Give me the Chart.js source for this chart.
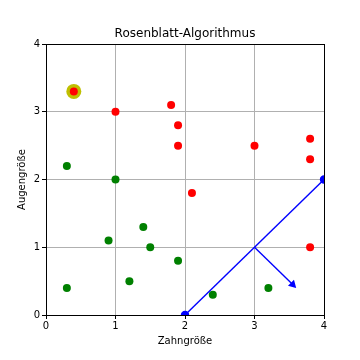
<!DOCTYPE html>
<html>
<head>
<meta charset="utf-8">
<script src="https://cdn.jsdelivr.net/npm/chart.js@4.4.0/dist/chart.umd.min.js"></script>
<style>
  html, body { margin: 0; padding: 0; background: #fff; }
  #wrap { width: 360px; height: 360px; }
</style>
</head>
<body>
<div id="wrap"><canvas id="chart" width="360" height="360"></canvas></div>
<script>
// Rosenblatt data: two classes plus separating line and normal vector
const redX = [0.4, 1.0, 1.8, 1.9, 1.9, 2.1, 3.0, 3.8, 3.8, 3.8];
const redY = [3.3, 3.0, 3.1, 2.8, 2.5, 1.8, 2.5, 2.6, 2.3, 1.0];
const greenX = [0.3, 1.0, 0.9, 1.4, 1.5, 1.9, 1.2, 0.3, 2.4, 3.2];
const greenY = [2.2, 2.0, 1.1, 1.3, 1.0, 0.8, 0.5, 0.4, 0.3, 0.4];
const highlightX = [0.4];
const highlightY = [3.3];
const lineX = [2, 4];
const lineY = [0, 2];
const arrowX = [3, 3.55];
const arrowY = [1, 0.45];
const ticks = [0, 1, 2, 3, 4];

const pts = (xs, ys) => xs.map((x, i) => ({ x: x, y: ys[i] }));

// box around the plot area like matplotlib axes
const frame = {
  id: "frame",
  afterDatasetsDraw(chart) {
    const a = chart.chartArea;
    const ctx = chart.ctx;
    ctx.save();
    ctx.strokeStyle = "#000";
    ctx.lineWidth = 1;
    ctx.strokeRect(Math.round(a.left) + 0.5, Math.round(a.top) + 0.5,
      Math.round(a.right - a.left), Math.round(a.bottom - a.top));
    ctx.restore();
  }
};

const tickFont = { family: "DejaVu Sans", size: 10 };

new Chart(document.getElementById("chart"), {
  type: "scatter",
  data: {
    datasets: [
      { data: pts(highlightX, highlightY), backgroundColor: "#bfbf00", borderWidth: 0, pointRadius: 7.5, order: 5 },
      { data: pts(redX, redY), backgroundColor: "#ff0000", borderWidth: 0, pointRadius: 4, order: 2 },
      { data: pts(greenX, greenY), backgroundColor: "#008000", borderWidth: 0, pointRadius: 4, order: 3 },
      { data: pts(lineX, lineY), showLine: true, borderColor: "#0000ff", borderWidth: 1.4,
        backgroundColor: "#0000ff", pointRadius: 3.5, clip: 0, order: 1 },
      { data: pts(arrowX, arrowY), showLine: true, borderColor: "#0000ff", borderWidth: 1.4,
        backgroundColor: "#0000ff", pointStyle: "triangle", pointRotation: 135,
        pointRadius: [0, 3.5], order: 1 }
    ]
  },
  options: {
    responsive: false,
    animation: false,
    layout: { padding: { left: 14, right: 36, top: 0, bottom: 0 } },
    plugins: {
      legend: { display: false },
      tooltip: { enabled: false },
      title: {
        display: true,
        fullSize: false,
        text: "Rosenblatt-Algorithmus",
        color: "#000",
        font: { family: "DejaVu Sans", size: 12, weight: "normal" },
        padding: { top: 27, bottom: 2.6 }
      }
    },
    scales: {
      x: {
        type: "linear", min: 0, max: 4,
        afterBuildTicks: (s) => { s.ticks = ticks.map(v => ({ value: v })); },
        ticks: { color: "#000", font: tickFont, padding: 1 },
        grid: { color: "#b0b0b0", tickColor: "#000", tickLength: 4 },
        border: { color: "#000" },
        title: { display: true, text: "Zahngröße", color: "#000",
          font: { family: "DejaVu Sans", size: 10 }, padding: { top: 2, bottom: 13 } }
      },
      y: {
        type: "linear", min: 0, max: 4,
        afterBuildTicks: (s) => { s.ticks = ticks.map(v => ({ value: v })); },
        afterFit: (s) => { s.width = 32; },
        ticks: { color: "#000", font: tickFont, padding: 2 },
        grid: { color: "#b0b0b0", tickColor: "#000", tickLength: 4 },
        border: { color: "#000" },
        title: { display: true, text: "Augengröße", color: "#000",
          font: { family: "DejaVu Sans", size: 10 }, padding: 2 }
      }
    }
  },
  plugins: [frame]
});
</script>
</body>
</html>
